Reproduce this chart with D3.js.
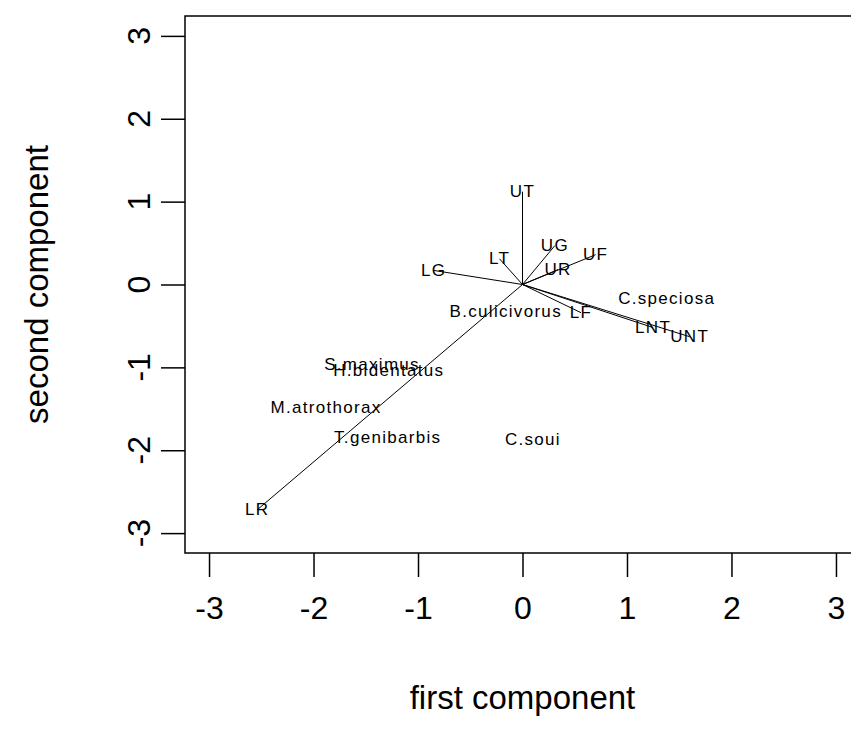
<!DOCTYPE html>
<html>
<head>
<meta charset="utf-8">
<script src="https://cdn.jsdelivr.net/npm/d3@7"></script>
<style>
  body { margin: 0; background: #fff; }
  svg { display: block; font-family: "Liberation Sans", Arial, sans-serif; }
</style>
</head>
<body>
<svg id="biplot" width="851" height="740"></svg>
<script>
// tick values on both axes
var axisTicks = [-3, -2, -1, 0, 1, 2, 3];

// variable loadings (lines from origin)
var varNames = ["UT", "UG", "UF", "UR", "LT", "LG", "LF", "LNT", "UNT", "LR"];
var varPC1 = [0.00, 0.31, 0.70, 0.34, -0.22, -0.85, 0.56, 1.25, 1.60, -2.54];
var varPC2 = [1.12, 0.47, 0.36, 0.18, 0.31, 0.17, -0.34, -0.52, -0.63, -2.72];

// species scores (text only)
var spNames = ["C.speciosa", "B.culicivorus", "S.maximus", "H.bidentatus", "M.atrothorax", "T.genibarbis", "C.soui"];
var spPC1 = [1.38, -0.16, -1.44, -1.28, -1.88, -1.29, 0.10];
var spPC2 = [-0.17, -0.33, -0.97, -1.04, -1.48, -1.85, -1.87];

(function() {
    var svg = d3.select("#biplot");

    var box = {left: 185, top: 16, right: 860, bottom: 553};

    var x = d3.scaleLinear().domain([-3.23, 3.23]).range([box.left, box.right]);
    var y = d3.scaleLinear().domain([-3.24, 3.24]).range([box.bottom, box.top]);

    var minus = function(d) { return d < 0 ? "-" + Math.abs(d) : d; };

    // plot frame
    svg.append("rect")
        .attr("x", box.left).attr("y", box.top)
        .attr("width", box.right - box.left).attr("height", box.bottom - box.top)
        .attr("fill", "none").attr("stroke", "#000").attr("stroke-width", 1.5);

    // x axis
    var gx = svg.append("g")
        .attr("transform", "translate(0," + box.bottom + ")")
        .call(d3.axisBottom(x).tickValues(axisTicks).tickSize(24).tickPadding(19).tickFormat(minus));
    gx.select(".domain").remove();
    gx.selectAll("line").attr("stroke", "#000").attr("stroke-width", 1.5);
    gx.selectAll("text").attr("font-size", 32).attr("fill", "#000")
        .attr("font-family", "Liberation Sans, Arial, sans-serif");

    // y axis (labels rotated like R default)
    var gy = svg.append("g")
        .attr("transform", "translate(" + box.left + ",0)")
        .call(d3.axisLeft(y).tickValues(axisTicks).tickSize(24).tickFormat(""));
    gy.select(".domain").remove();
    gy.selectAll("line").attr("stroke", "#000").attr("stroke-width", 1.5);

    svg.append("g").selectAll("text").data(axisTicks).enter().append("text")
        .attr("transform", function(d) { return "translate(150," + y(d) + ") rotate(-90)"; })
        .attr("text-anchor", "middle")
        .attr("font-size", 32)
        .text(minus);

    // axis titles
    svg.append("text")
        .attr("x", (box.left + box.right) / 2).attr("y", 709)
        .attr("text-anchor", "middle").attr("font-size", 33)
        .text("first component");

    svg.append("text")
        .attr("transform", "translate(48," + y(0) + ") rotate(-90)")
        .attr("text-anchor", "middle").attr("font-size", 33)
        .text("second component");

    // loading lines
    svg.append("g").selectAll("line").data(varNames).enter().append("line")
        .attr("x1", x(0)).attr("y1", y(0))
        .attr("x2", function(d, i) { return x(varPC1[i]); })
        .attr("y2", function(d, i) { return y(varPC2[i]); })
        .attr("stroke", "#000").attr("stroke-width", 1);

    var labelFont = function(sel) {
        sel.attr("text-anchor", "middle")
            .attr("dominant-baseline", "central")
            .attr("font-size", 17)
            .attr("letter-spacing", "1.3px");
    };

    svg.append("g").selectAll("text").data(varNames).enter().append("text")
        .attr("x", function(d, i) { return x(varPC1[i]); })
        .attr("y", function(d, i) { return y(varPC2[i]); })
        .call(labelFont)
        .text(function(d) { return d; });

    svg.append("g").selectAll("text").data(spNames).enter().append("text")
        .attr("x", function(d, i) { return x(spPC1[i]); })
        .attr("y", function(d, i) { return y(spPC2[i]); })
        .call(labelFont)
        .text(function(d) { return d; });
}());
</script>
</body>
</html>
